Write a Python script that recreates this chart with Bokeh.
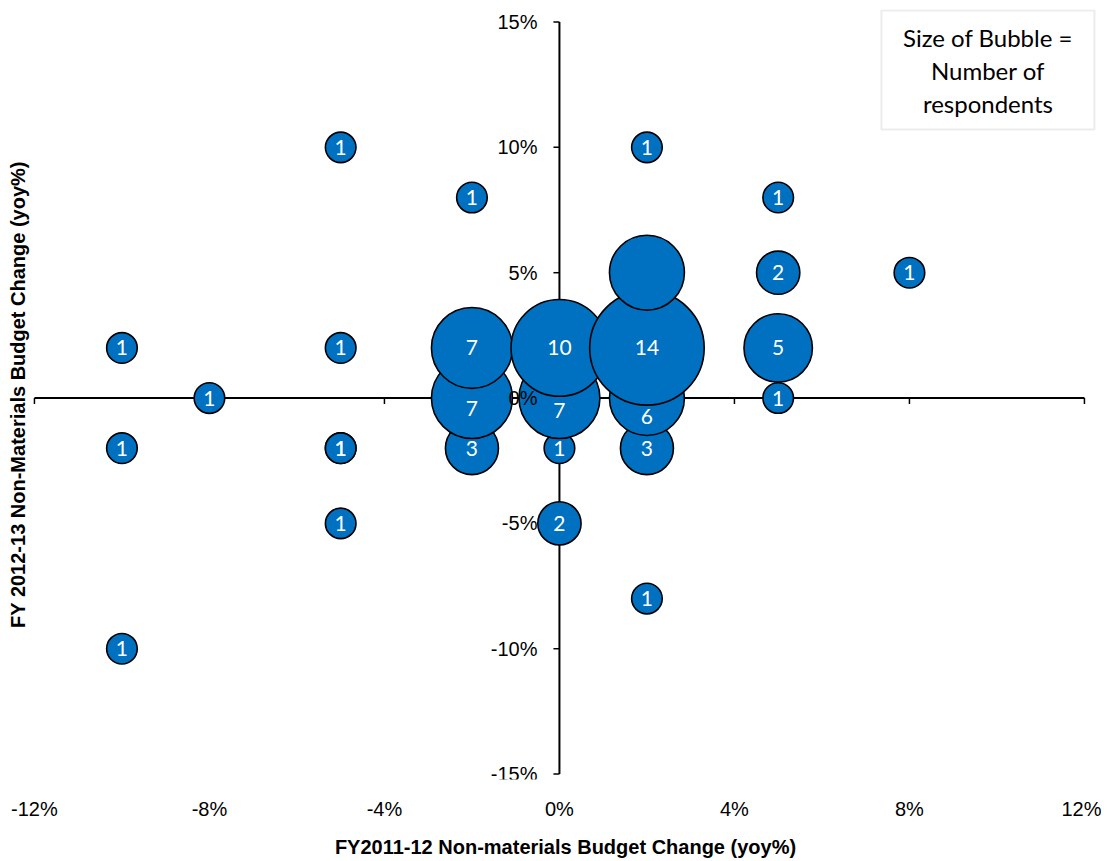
from bokeh.plotting import figure
from bokeh.models import Range1d, FixedTicker, BoxAnnotation, Label, ColumnDataSource
from bokeh.core.properties import value
from bokeh.embed import file_html
from bokeh.resources import INLINE
import math

# ---- data (percent) ----
bx = [-10, -5, 2, -5, 0, -10, -5, -2, 0, 2, -8, -2, 0, 2, 5, -10, -5, -2, 0, 2, 5, 2, 5, 8, -2, 5, -5, 2]
by = [-10, -5, -8, -2, -5, -2, -2, -2, -2, -2, 0, 0, 0, 0, 0, 2, 2, 2, 2, 2, 2, 5, 5, 5, 8, 8, 10, 10]
bn = [1, 1, 1, 1, 2, 1, 1, 3, 1, 3, 1, 7, 7, 6, 1, 1, 1, 7, 10, 14, 5, 6, 2, 1, 1, 1, 1, 1]
blabel = ["1", "1", "1", "1", "2", "1", "1", "3", "1", "3", "1", "7", "7", "6", "1",
          "1", "1", "7", "10", "14", "5", "", "2", "1", "1", "1", "1", "1"]
# label nudges (screen px, downward) for labels moved off overlapped bubbles
label_dy = [0, 0, 0, 0, 0, 0, 0, 0, 0, 0, 0, 10, 12, 18, 0, 0, 0, 0, 0, 0, 0, 0, 0, 0, 0, 0, 0, 0]

x_ticks = [-12, -8, -4, 0, 4, 8, 12]
x_tick_labels = ["-12%", "-8%", "-4%", "0%", "4%", "8%", "12%"]
y_ticks = [-15, -10, -5, 0, 5, 10, 15]
y_tick_labels = ["-15%", "-10%", "-5%", "0%", "5%", "10%", "15%"]

x_title = "FY2011-12 Non-materials Budget Change (yoy%)"
y_title = "FY 2012-13 Non-Materials Budget Change (yoy%)"
legend_lines = ["Size of Bubble =", "Number of", "respondents"]

# ---- layout ----
W, H = 1101, 860
ML, MR, MT, MB = 30, 1, 9, 80
fw = W - ML - MR
fh = H - MT - MB
x0 = -12.09
x1 = x0 + fw / 43.75
y1 = 15.5
y0 = y1 - fh / 25.1
pxx = fw / (x1 - x0)
pxy = fh / (y1 - y0)

p = figure(width=W, height=H, output_backend="svg", toolbar_location=None,
           x_range=Range1d(x0, x1), y_range=Range1d(y0, y1),
           min_border_left=ML, min_border_right=MR, min_border_top=MT, min_border_bottom=MB)
p.outline_line_color = None
p.grid.visible = False
p.background_fill_color = "white"

AX_FONT = "Liberation Sans"

# bottom axis: labels + title only
xa = p.xaxis[0]
xa.ticker = FixedTicker(ticks=x_ticks)
xa.major_label_overrides = {t: l for t, l in zip(x_ticks, x_tick_labels)}
xa.axis_line_color = None
xa.major_tick_line_color = None
xa.minor_tick_line_color = None
xa.major_tick_out = 0
xa.major_tick_in = 0
xa.major_label_standoff = 18
xa.major_label_text_font = AX_FONT
xa.major_label_text_font_size = "20px"
xa.major_label_text_color = "black"
xa.axis_label = x_title
xa.axis_label_text_font = AX_FONT
xa.axis_label_text_font_style = "bold"
xa.axis_label_text_font_size = "20px"
xa.axis_label_standoff = 13
xa.axis_label_text_color = "black"

# left axis: title only
ya = p.yaxis[0]
ya.ticker = FixedTicker(ticks=[])
ya.axis_line_color = None
ya.major_tick_line_color = None
ya.minor_tick_line_color = None
ya.major_tick_out = 0
ya.major_tick_in = 0
ya.axis_label = y_title
ya.axis_label_text_font = AX_FONT
ya.axis_label_text_font_style = "bold"
ya.axis_label_text_font_size = "20px"
ya.axis_label_standoff = 2
ya.axis_label_text_color = "black"

# crossing axis lines
p.segment(x0=[x_ticks[0]], y0=[0], x1=[x_ticks[-1]], y1=[0], line_color="black", line_width=2)
p.segment(x0=[0], y0=[y_ticks[0]], x1=[0], y1=[y_ticks[-1]], line_color="black", line_width=2)
# ticks
p.segment(x0=x_ticks, y0=[0] * len(x_ticks), x1=x_ticks, y1=[-6 / pxy] * len(x_ticks),
          line_color="black", line_width=1.5)
p.segment(x0=[0] * len(y_ticks), y0=y_ticks, x1=[-6 / pxx] * len(y_ticks), y1=y_ticks,
          line_color="black", line_width=1.5)

# bubbles
src = ColumnDataSource(dict(x=bx, y=by, n=bn, size=[30.6 * math.sqrt(v) for v in bn],
                            label=blabel, dy=label_dy))
p.scatter(x="x", y="y", size="size", source=src, fill_color="#0070C0",
          line_color="black", line_width=1.6)

# y tick labels next to the vertical axis (drawn over bubbles)
p.text(x=[0] * len(y_ticks), y=y_ticks, text=y_tick_labels, x_offset=-22,
       text_align="right", text_baseline="middle", text_font=value(AX_FONT),
       text_font_size="20px", text_color="black")

p.text(x="x", y="y", text="label", y_offset="dy", source=src, text_align="center",
       text_baseline="middle", text_color="white", text_font=value("Lato"),
       text_font_size="21px")

# legend note box
box = BoxAnnotation(left=(881 - 559) / 43.75, right=(1094 - 559) / 43.75,
                    top=(398 - 10) / 25.1, bottom=(398 - 129) / 25.1,
                    fill_color="white", fill_alpha=1.0, line_color="#BFBFBF", line_width=2)
p.add_layout(box)
for i, t in enumerate(legend_lines):
    p.add_layout(Label(x=(987.5 - 559) / 43.75, y=(398 - 37 - 33 * i) / 25.1, text=t,
                       text_align="center", text_baseline="middle", text_font="Lato",
                       text_font_size="24px", text_color="black"))

open("out.html", "w").write(file_html(p, INLINE))
